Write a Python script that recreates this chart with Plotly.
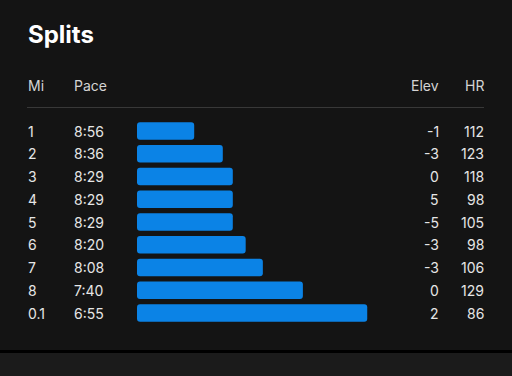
import plotly.graph_objects as go

miles = ["1", "2", "3", "4", "5", "6", "7", "8", "0.1"]
pace = ["8:56", "8:36", "8:29", "8:29", "8:29", "8:20", "8:08", "7:40", "6:55"]
elev = [-1, -3, 0, 5, -5, -3, -3, 0, 2]
hr = [112, 123, 118, 98, 105, 98, 106, 129, 86]

W, H = 512, 376
BG = "#141414"
TXT = "#e6e6e6"
FONT = "Inter"

def pace_sec(p):
    m, s = p.split(":")
    return int(m) * 60 + int(s)

pace_s = [pace_sec(p) for p in pace]
BASE = 576  # slowest reference pace (seconds) at bar origin

idx = list(range(len(miles)))
row0, step = 131, 22.75

fig = go.Figure()
fig.add_trace(go.Bar(
    y=idx, x=[p - BASE for p in pace_s], base=[BASE] * len(idx),
    orientation="h", marker=dict(color="#0b83e6", line=dict(width=0)),
    width=0.78, hoverinfo="skip", showlegend=False,
))

x0, x1 = 137, 400
px_per_sec = 1.43
fig.update_layout(
    width=W, height=H, margin=dict(l=0, r=0, t=0, b=0),
    paper_bgcolor=BG, plot_bgcolor="rgba(0,0,0,0)",
    barcornerradius=3,
    xaxis=dict(domain=[x0 / W, x1 / W], range=[BASE, BASE - (x1 - x0) / px_per_sec],
               visible=False, fixedrange=True),
    yaxis=dict(domain=[0, 1], range=[(H - row0) / step, -row0 / step],
               visible=False, fixedrange=True),
    font=dict(family=FONT, color=TXT),
)

def py(px):
    return 1 - px / H

LX_MI, LX_PACE, RX_ELEV, RX_HR = 25.5, 71.5, 441, 486

ann = []
ann.append(dict(text="<b>Splits</b>", x=25.5 / W, y=py(34), xref="paper", yref="paper",
                xanchor="left", yanchor="middle", showarrow=False,
                font=dict(size=24, color="#ffffff", family=FONT)))
hdr_y = py(86)
for t, x, anc in [("Mi", LX_MI, "left"), ("Pace", LX_PACE, "left"), ("Elev", RX_ELEV, "right"), ("HR", RX_HR, "right")]:
    ann.append(dict(text=t, x=x / W, y=hdr_y, xref="paper", yref="paper", xanchor=anc,
                    yanchor="middle", showarrow=False, font=dict(size=14, color="#d4d4d4")))
for i in idx:
    for t, x, anc in [(miles[i], LX_MI, "left"), (pace[i], LX_PACE, "left"),
                      (str(elev[i]), RX_ELEV, "right"), (str(hr[i]), RX_HR, "right")]:
        ann.append(dict(text=t, x=x / W, y=i, xref="paper", yref="y", xanchor=anc,
                        yanchor="middle", showarrow=False, font=dict(size=14, color=TXT)))
fig.update_layout(annotations=ann)

fig.update_layout(shapes=[
    dict(type="line", xref="paper", yref="paper", x0=27 / W, x1=484 / W, y0=py(107.5), y1=py(107.5),
         line=dict(color="#383838", width=1)),
    dict(type="rect", xref="paper", yref="paper", x0=0, x1=1, y0=py(376), y1=py(353),
         fillcolor="#1b1b1b", line=dict(width=0), layer="below"),
    dict(type="rect", xref="paper", yref="paper", x0=0, x1=1, y0=py(353), y1=py(350),
         fillcolor="#000000", line=dict(width=0), layer="below"),
])

fig.write_html("out.html", config={"displayModeBar": False},
               post_script="document.body.style.margin='0';document.body.style.overflow='hidden';document.body.style.background='#141414';")
